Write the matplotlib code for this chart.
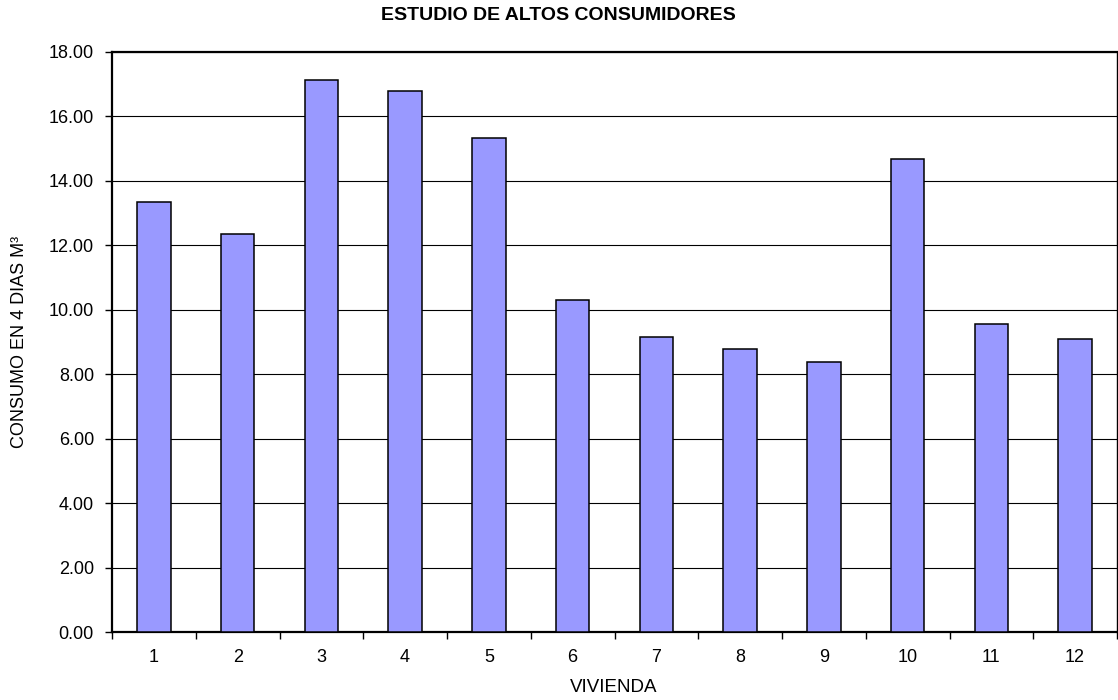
import matplotlib
matplotlib.use("Agg")
import matplotlib.pyplot as plt
from matplotlib.ticker import FixedLocator, FormatStrFormatter

# Consumption per dwelling over 4 days (m³)
viviendas = ["1", "2", "3", "4", "5", "6", "7", "8", "9", "10", "11", "12"]
consumo = [13.35, 12.35, 17.12, 16.79, 15.32, 10.29, 9.16, 8.79, 8.38, 14.66, 9.55, 9.08]
y_ticks = [0, 2, 4, 6, 8, 10, 12, 14, 16, 18]

plt.rcParams["font.family"] = ["Liberation Sans", "DejaVu Sans"]

W, H = 1118, 700
fig = plt.figure(figsize=(W / 100, H / 100), dpi=100)
fig.patch.set_facecolor("white")

left, right, top, bottom = 112, 1117, 51.7, 632.2
ax = fig.add_axes([left / W, 1 - bottom / H, (right - left) / W, (bottom - top) / H])

x = list(range(1, len(viviendas) + 1))
ax.bar(x, consumo, width=0.4, color="#9999FF", edgecolor="black",
       linewidth=1.1, zorder=3)

ax.set_xlim(0.5, len(viviendas) + 0.5)
ax.set_ylim(0, 18)

# horizontal gridlines
ax.yaxis.set_major_locator(FixedLocator(y_ticks))
ax.yaxis.set_major_formatter(FormatStrFormatter("%.2f"))
ax.grid(axis="y", color="black", linewidth=0.8, zorder=1)
ax.set_axisbelow(True)

# category boundaries carry the tick marks, labels sit at the centres
ax.xaxis.set_major_locator(FixedLocator([i + 0.5 for i in range(0, len(viviendas) + 1)]))
ax.xaxis.set_major_formatter(plt.NullFormatter())
ax.set_xticks(x, minor=True)
ax.set_xticklabels(viviendas, minor=True)
ax.tick_params(axis="x", which="major", direction="out", length=5, width=1,
               color="black")
ax.tick_params(axis="x", which="minor", length=0, pad=12, labelsize=13)
ax.tick_params(axis="y", which="major", direction="out", length=5, width=1,
               pad=8, labelsize=13)

for side in ["left", "top", "bottom"]:
    ax.spines[side].set_linewidth(1.6)
    ax.spines[side].set_color("black")
ax.spines["right"].set_linewidth(1.0)
ax.spines["right"].set_color("black")

fig.text(558 / W, 1 - 16 / H, "ESTUDIO DE ALTOS CONSUMIDORES",
         ha="center", va="center", fontsize=14, fontweight="bold")
fig.text(614 / W, 1 - 688 / H, "VIVIENDA", ha="center", va="center",
         fontsize=13.5)
fig.text(20 / W, 1 - 342 / H, "CONSUMO EN 4 DIAS M³", ha="center",
         va="center", rotation=90, fontsize=13)

fig.savefig("out.png", dpi=100, facecolor="white")
